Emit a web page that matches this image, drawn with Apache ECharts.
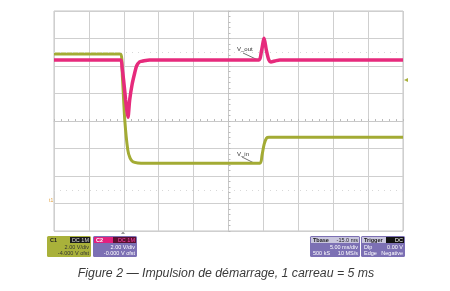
<!DOCTYPE html>
<html><head><meta charset="utf-8">
<script src="https://cdn.jsdelivr.net/npm/echarts@6/dist/echarts.min.js"></script>
<style>html,body{margin:0;padding:0;background:#fff}#c{width:450px;height:291px}</style>
</head><body><div id="c"></div>
<script>
// time in ms relative to screen centre (10 div x 5 ms), voltage in V (8 div x 2 V)
const vinTime = [-25, -15.45, -15.2, -14.86, -14.43, -14.1, -13.7, -13, -12, 0, 4.5, 4.8, 5.1, 5.45, 5.8, 25];
const vinVolt = [4.87, 4.87, 3.2, 0.07, -2.1, -2.7, -2.96, -3.05, -3.08, -3.08, -3.08, -2.5, -1.7, -1.25, -1.19, -1.19];
const voutTime = [-25, -15.45, -15.24, -15.03, -14.74, -14.53, -14.4, -14.16, -13.8, -13.44, -13.17, -12.72, -12.3, -11.3, 0, 4.35, 4.7, 5.1, 5.42, 5.78, 6.07, 6.64, 7.36, 25];
const voutVolt = [4.44, 4.44, 3.85, 2.98, 1.53, 0.65, 0.27, 1.53, 2.69, 3.49, 4.0, 4.31, 4.36, 4.44, 4.44, 4.44, 5.02, 6.01, 5.16, 4.44, 4.3, 4.36, 4.44, 4.44];
const xTicks = {min: -25, max: 25, step: 5};
const yTicks = {min: -8, max: 8, step: 2};
const caption = 'Figure 2 — Impulsion de démarrage, 1 carreau = 5 ms';

const chart = echarts.init(document.getElementById('c'), null, {renderer: 'canvas'});
const zip = (a, b) => a.map((v, i) => [v, b[i]]);
const grey = '#cfcfcf';
const small = {fontFamily: 'Liberation Sans', fontSize: 5.5};
function box(x, y, w, h, color, header, headerColor, headerTextColor, lines) {
  const els = [{type: 'rect', shape: {x, y, width: w, height: h, r: 1.5}, style: {fill: color}}];
  els.push({type: 'rect', shape: {x: x + 1, y: y + 1, width: w - 2, height: 6}, style: {fill: headerColor}});
  header.forEach(t => els.push({type: 'text', x: x + t.dx, y: y + 1.3, style: Object.assign({text: t.text, fill: t.fill || headerTextColor, align: t.align || 'left'}, small, {fontWeight: 'bold'})}));
  lines.forEach(l => els.push({type: 'text', x: x + l.dx, y: y + l.dy, style: Object.assign({text: l.text, fill: l.fill || '#fff', align: l.align || 'left'}, small)}));
  return els;
}
const graphics = [].concat(
  box(47, 236, 44, 21, '#a9b13a', [{text: 'C1', dx: 3, fill: '#222'}], '#a9b13a', '#111', [
    {text: '2.00 V/div', dx: 42, dy: 8, align: 'right', fill: '#333'},
    {text: '-4.000 V ofst', dx: 42, dy: 14, align: 'right', fill: '#333'}
  ]),
  [{type: 'rect', shape: {x: 70, y: 237, width: 20, height: 6}, style: {fill: '#1a1a1a'}},
   {type: 'text', x: 89, y: 237.5, style: Object.assign({text: 'DC 1M', fill: '#ddd', align: 'right'}, small)}],
  box(93, 236, 44, 21, '#7c70b4', [{text: 'C2', dx: 3, fill: '#fff'}], '#e2217e', '#fff', [
    {text: '2.00 V/div', dx: 42, dy: 8, align: 'right'},
    {text: '-0.000 V ofst', dx: 42, dy: 14, align: 'right'}
  ]),
  [{type: 'rect', shape: {x: 113, y: 237, width: 23, height: 6}, style: {fill: '#5a1030'}},
   {type: 'text', x: 135, y: 237.5, style: Object.assign({text: 'DC 1M', fill: '#f4a', align: 'right'}, small)}],
  box(310, 236, 50, 21, '#7c70b4', [{text: 'Tbase', dx: 3, fill: '#222'}], '#c9c6dd', '#222', [
    {text: '-15.0 ms', dx: 48, dy: 1.3, align: 'right', fill: '#222'},
    {text: '5.00 ms/div', dx: 48, dy: 8, align: 'right'},
    {text: '500 kS', dx: 3, dy: 14},
    {text: '10 MS/s', dx: 48, dy: 14, align: 'right'}
  ]),
  box(361, 236, 44, 21, '#7c70b4', [{text: 'Trigger', dx: 3, fill: '#222'}], '#c9c6dd', '#222', [
    {text: 'Dlp', dx: 3, dy: 8},
    {text: '0.00 V', dx: 42, dy: 8, align: 'right'},
    {text: 'Edge', dx: 3, dy: 14},
    {text: 'Negative', dx: 42, dy: 14, align: 'right'}
  ]),
  [{type: 'rect', shape: {x: 386, y: 237, width: 18, height: 6}, style: {fill: '#111'}},
   {type: 'text', x: 403, y: 237.5, style: Object.assign({text: 'DC', fill: '#fff', align: 'right'}, small)},
   {type: 'text', x: 237, y: 46, style: {text: 'V_out', fill: '#333', fontSize: 6, fontFamily: 'Liberation Sans'}},
   {type: 'line', shape: {x1: 243, y1: 53, x2: 258, y2: 60}, style: {stroke: '#333', lineWidth: 0.7}},
   {type: 'text', x: 237, y: 151, style: {text: 'V_in', fill: '#333', fontSize: 6, fontFamily: 'Liberation Sans'}},
   {type: 'line', shape: {x1: 242, y1: 157, x2: 254, y2: 163}, style: {stroke: '#333', lineWidth: 0.7}},
   {type: 'text', x: 49, y: 198, style: {text: 't1', fill: '#e0a040', fontSize: 5, fontFamily: 'Liberation Sans'}},
   {type: 'polygon', shape: {points: [[404, 80], [408, 78], [408, 82]]}, style: {fill: '#a9b13a'}},
   {type: 'polygon', shape: {points: [[123, 231], [121, 234], [125, 234]]}, style: {fill: '#999'}},
   {type: 'text', x: 226, y: 274, style: {text: caption, fill: '#3a3a3a', fontSize: 12.3, fontStyle: 'italic', fontFamily: 'Liberation Sans', align: 'center', verticalAlign: 'middle'}}
  ]
);

chart.setOption({
  animation: false,
  backgroundColor: '#fff',
  grid: {left: 54, top: 11, width: 349, height: 220, show: true, borderColor: '#c4c4c4', borderWidth: 1},
  xAxis: {
    type: 'value', min: xTicks.min, max: xTicks.max, interval: xTicks.step,
    axisLabel: {show: false},
    axisLine: {show: true, onZero: true, lineStyle: {color: '#c8c8c8', width: 1}},
    axisTick: {show: true, inside: true, length: 2, lineStyle: {color: '#bbb'}},
    minorTick: {show: true, splitNumber: 5, length: 2, lineStyle: {color: '#bbb'}},
    splitLine: {show: true, lineStyle: {color: grey, width: 1}}
  },
  yAxis: {
    type: 'value', min: yTicks.min, max: yTicks.max, interval: yTicks.step,
    axisLabel: {show: false},
    axisLine: {show: true, onZero: true, lineStyle: {color: '#c8c8c8', width: 1}},
    axisTick: {show: true, inside: true, length: 2, lineStyle: {color: '#bbb'}},
    minorTick: {show: true, splitNumber: 5, length: 2, lineStyle: {color: '#bbb'}},
    splitLine: {show: true, lineStyle: {color: grey, width: 1}}
  },
  series: [
    {
      name: 'V_in', type: 'line', data: zip(vinTime, vinVolt), showSymbol: false, smooth: 0.25,
      lineStyle: {color: '#a3ab34', width: 3}, z: 3,
      markLine: {silent: true, symbol: 'none', label: {show: false},
        lineStyle: {color: '#d8d8d8', type: [1, 5], width: 1},
        data: [{yAxis: 5}, {yAxis: -5}]}
    },
    {
      name: 'V_out', type: 'line', data: zip(voutTime, voutVolt), showSymbol: false, smooth: 0.25,
      lineStyle: {color: '#e62a7c', width: 3.5}, z: 4
    }
  ],
  graphic: graphics
});
</script></body></html>
